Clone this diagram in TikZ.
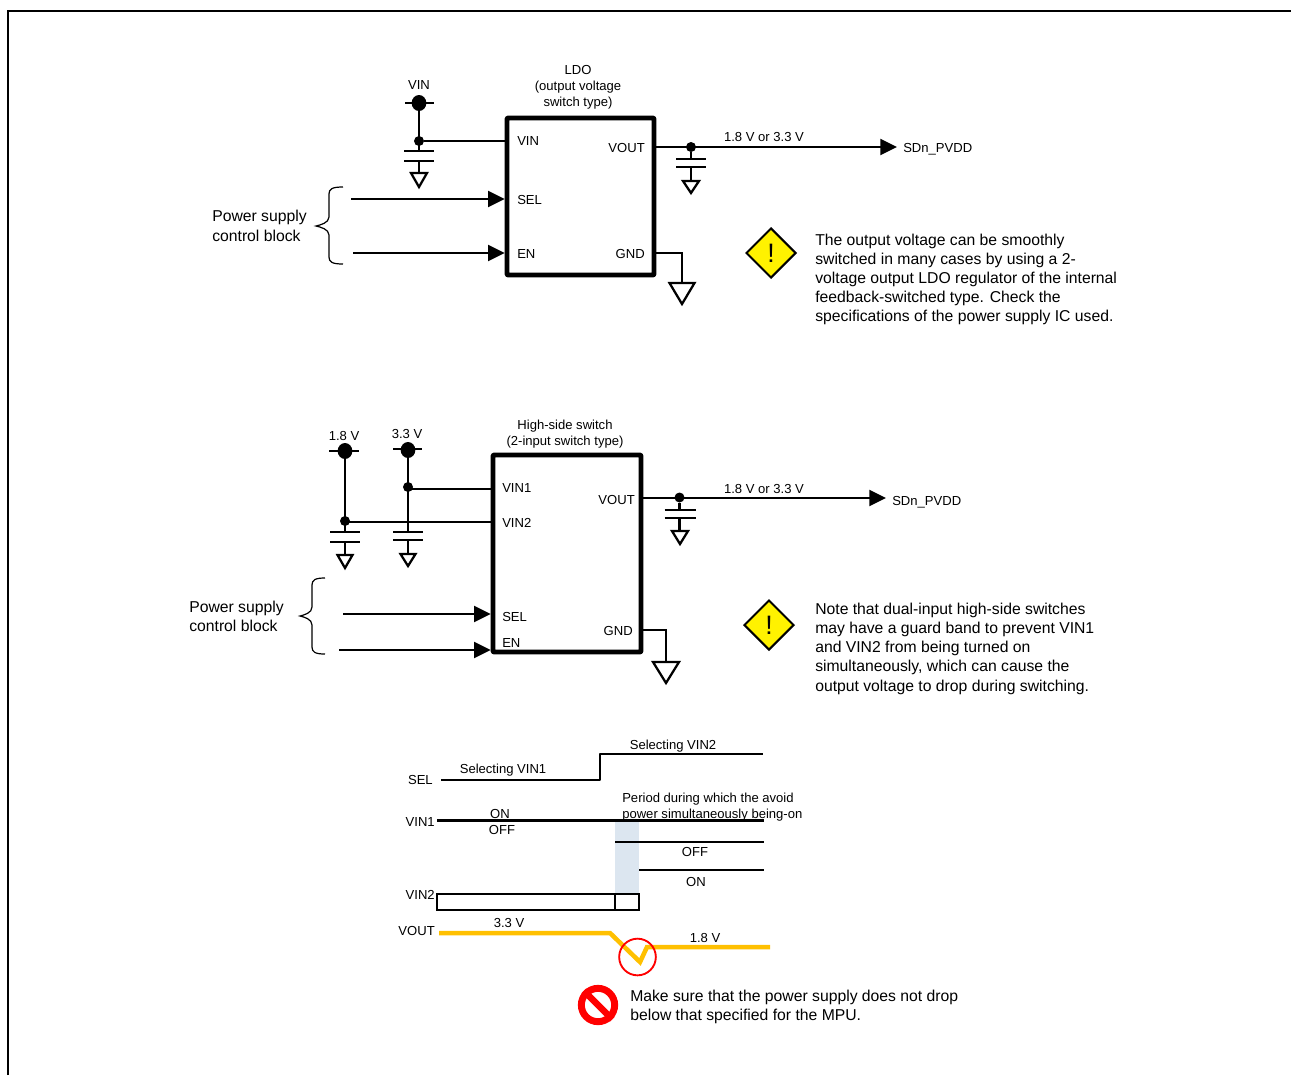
\documentclass[tikz,border=0pt]{standalone}
\usepackage{fontspec}
\setmainfont{Liberation Sans}
\usetikzlibrary{arrows.meta,shapes.geometric}
\definecolor{bandfill}{HTML}{DCE6F0}
\definecolor{voutc}{HTML}{FFC000}
\tikzset{
  x=0.75pt,y=-0.75pt,
  txt/.style={inner sep=0pt,font=\fontsize{9.8pt}{12pt}\selectfont,text height=8.2pt,text depth=0pt},
  ctr/.style={inner sep=0pt,font=\fontsize{9.8pt}{12pt}\selectfont,align=center},
  big/.style={inner sep=0pt,anchor=west,font=\fontsize{11.8pt}{13pt}\selectfont,text height=8.4pt,text depth=0pt},
  wire/.style={line width=1.7pt,draw=black},
  chip/.style={rectangle,line width=3.5pt,draw=black,rounded corners=0.5pt,inner sep=0pt,line join=round},
  inarrow/.style={line width=1.7pt,-{Triangle[length=12.5pt,width=12pt]},shorten >=0pt},
  jct/.style={circle,fill=black,inner sep=0pt,minimum size=7.5pt},
  rail/.style={ellipse,fill=black,inner sep=0pt,minimum width=11pt,minimum height=12pt},
  warnsign/.style={diamond,aspect=1,draw=black,line width=1.5pt,fill=yellow,minimum size=50pt*0.75,inner sep=0pt,font=\fontsize{20pt}{20pt}\selectfont},
  brc/.style={line width=0.9pt,draw=black},
  tim/.style={line width=1.7pt,draw=black},
  gndtri/.style={line width=1.7pt,draw=black,line join=miter},
  plate/.style={line width=1.7pt,draw=black}
}
% plate pair: x, y1, y2, half width
\newcommand{\plates}[4]{%
  \draw[plate] (#1-#4,#2)--(#1+#4,#2);
  \draw[plate] (#1-#4,#3)--(#1+#4,#3);}
% ground triangle: x, top y, half width, apex y
\newcommand{\gndmark}[4]{\draw[gndtri] (#1-#3,#2)--(#1+#3,#2)--(#1,#4)--cycle;}
% brace: right x, spine x, tip x, top y, mid y, bottom y
\newcommand{\bracemark}[6]{\draw[brc] (#1,#4) .. controls (#2+3,#4) and (#2,#4+2) .. (#2,#4+7) -- (#2,#5-9) .. controls (#2,#5-3) and (#3+4,#5-1) .. (#3,#5) .. controls (#3+4,#5+1) and (#2,#5+3) .. (#2,#5+9) -- (#2,#6-7) .. controls (#2,#6-2) and (#2+3,#6) .. (#1,#6);}
\begin{document}
\begin{tikzpicture}
\useasboundingbox (0,0) rectangle (1291,1075);
% frame
\coordinate (fa) at (8,1075); \coordinate (fb) at (8,11); \coordinate (fc) at (1291,11);
\draw[line width=1.2pt] (fa)--(fb)--(fc);

% ===== LDO =====
\node[chip,minimum width=110.25pt,minimum height=117.75pt] (ldo) at (580.5,196.5) {};
\node[ctr] (ldot) at (578,87) {LDO\\(output voltage\\switch type)};
\node[txt] (lvin) at (419,84) {VIN};
\node[rail] (r1) at (419,103) {};
\draw[plate] (405,103)--(434,103);
\node[jct] (j1) at (419,141) {};
\coordinate (c1t) at (419,151); \coordinate (c1b) at (419,161); \coordinate (g1) at (419,173);
\draw[wire] (r1)--(c1t); \draw[wire] (c1b)--(g1);
\draw[wire] (j1)--(j1-|ldo.west);
\plates{419}{151}{161}{15}
\gndmark{419}{173}{8}{187}
\node[txt,anchor=west] (p1) at (517,140) {VIN};
\node[txt,anchor=west] (p2) at (517,199) {SEL};
\node[txt,anchor=west] (p3) at (517,253) {EN};
\node[txt,anchor=east] (p4) at (645,147) {VOUT};
\node[txt,anchor=east] (p5) at (645,253) {GND};
% output
\coordinate (o1) at (897,147);
\node[jct] (j2) at (691,147) {};
\draw[inarrow] (ldo.east|-o1)--(o1);
\coordinate (c2t) at (691,159); \coordinate (c2b) at (691,167); \coordinate (g2) at (691,181);
\draw[wire] (j2)--(c2t); \draw[wire] (c2b)--(g2);
\plates{691}{159}{167}{15}
\gndmark{691}{181}{8}{193}
\node[txt] (v1) at (764,136) {1.8 V or 3.3 V};
\node[txt,anchor=west] (s1) at (903,147) {SDn\_PVDD};
% ground
\coordinate (g3a) at (656,253); \coordinate (g3b) at (682,253); \coordinate (g3c) at (682,283);
\draw[wire] (g3a)--(g3b)--(g3c);
\gndmark{682}{283}{12.5}{304}
% inputs
\coordinate (i1) at (351,199); \coordinate (i2) at (353,253);
\draw[inarrow] (i1)--(i1-|ldo.west);
\draw[inarrow] (i2)--(i2-|ldo.west);
\bracemark{343}{329}{316}{187}{226}{264}
\node[big] (pw1) at (212,216) {Power supply};
\node[big] (pw2) at (212,236) {control block};
\node[warnsign] (w1) at (771,253) {!};
\node[big] (n11) at (815,240) {The output voltage can be smoothly};
\node[big] (n12) at (815,259) {switched in many cases by using a 2-};
\node[big] (n13) at (815,278) {voltage output LDO regulator of the internal};
\node[big] (n14) at (815,297) {feedback-switched type. Check the};
\node[big] (n15) at (815,316) {specifications of the power supply IC used.};

% ===== High-side switch =====
\node[chip,minimum width=111pt,minimum height=147.75pt] (hs) at (567,553.5) {};
\node[ctr] (hst) at (565,434) {High-side switch\\(2-input switch type)};
\node[txt] (l18) at (344,435) {1.8 V};
\node[txt] (l33) at (407,433) {3.3 V};
\node[rail] (r2) at (345,451) {};
\node[rail] (r3) at (408,450) {};
\draw[plate] (329,451)--(359,451);
\draw[plate] (393,449)--(422,449);
\node[jct] (j3) at (345,521) {};
\node[jct] (j4) at (408,487) {};
\coordinate (c3t) at (345,532); \coordinate (c3b) at (345,542); \coordinate (g4) at (345,555);
\coordinate (c4t) at (408,532); \coordinate (c4b) at (408,540); \coordinate (g5) at (408,554);
\draw[wire] (r2)--(c3t); \draw[wire] (c3b)--(g4);
\draw[wire] (r3)--(c4t); \draw[wire] (c4b)--(g5);
\coordinate (w3) at (345,522); \coordinate (w4) at (408,489);
\draw[wire] (w3)--(w3-|hs.west);
\draw[wire] (w4)--(w4-|hs.west);
\plates{345}{532}{542}{15}
\plates{408}{532}{540}{15}
\gndmark{345}{555}{7.5}{568}
\gndmark{408}{554}{7.5}{566}
\node[txt,anchor=west] (q1) at (502,487) {VIN1};
\node[txt,anchor=west] (q2) at (502,522) {VIN2};
\node[txt,anchor=west] (q3) at (502,616) {SEL};
\node[txt,anchor=west] (q4) at (502,642) {EN};
\node[txt,anchor=east] (q5) at (635,499) {VOUT};
\node[txt,anchor=east] (q6) at (633,630) {GND};
\coordinate (o2) at (886,498);
\node[jct] (j5) at (679.5,497.5) {};
\draw[inarrow] (hs.east|-o2)--(o2);
\coordinate (c5t) at (679.5,510); \coordinate (c5b) at (679.5,518); \coordinate (g6) at (679.5,531);
\draw[wire] (j5)--(c5t); \draw[wire] (c5b)--(g6);
\plates{680}{510}{518}{15.5}
\gndmark{680}{531}{8}{544}
\node[txt] (v2) at (764,488) {1.8 V or 3.3 V};
\node[txt,anchor=west] (s2) at (892,500) {SDn\_PVDD};
\coordinate (g7a) at (643,630); \coordinate (g7b) at (666,630); \coordinate (g7c) at (666,662);
\draw[wire] (g7a)--(g7b)--(g7c);
\gndmark{666}{662}{13}{683}
\coordinate (i3) at (343,614); \coordinate (i4) at (339,650);
\draw[inarrow] (i3)--(i3-|hs.west);
\draw[inarrow] (i4)--(i4-|hs.west);
\bracemark{325}{312}{300}{578}{616}{654}
\node[big] (pw3) at (189,607) {Power supply};
\node[big] (pw4) at (189,626) {control block};
\node[warnsign] (w2) at (769,625) {!};
\node[big] (n21) at (815,609) {Note that dual-input high-side switches};
\node[big] (n22) at (815,628) {may have a guard band to prevent VIN1};
\node[big] (n23) at (815,647) {and VIN2 from being turned on};
\node[big] (n24) at (815,666) {simultaneously, which can cause the};
\node[big] (n25) at (815,686) {output voltage to drop during switching.};

% ===== Timing =====
\fill[bandfill] (615,821) rectangle (639,894);
\coordinate (t1) at (441,780); \coordinate (t2) at (600,780); \coordinate (t3) at (600,754); \coordinate (t4) at (763,754);
\draw[tim,line join=round] (t1)--(t2)--(t3)--(t4);
\node[txt,anchor=east] (ts) at (433,779) {SEL};
\node[txt] (ts1) at (503,768) {Selecting VIN1};
\node[txt] (ts2) at (673,744) {Selecting VIN2};
\coordinate (a1) at (437,820.5); \coordinate (a2) at (764,820.5);
\draw[tim] (a1)--(a2);
\node[txt,anchor=east] (tv1) at (435,821) {VIN1};
\node[txt] (on1) at (500,813) {ON};
\node[txt] (off1) at (502,829) {OFF};
\node[txt,anchor=west] (pd1) at (622,797) {Period during which the avoid};
\node[txt,anchor=west] (pd2) at (622,813) {power simultaneously being-on};
\coordinate (b1) at (615,842); \coordinate (b2) at (764,842);
\coordinate (b3) at (639,870); \coordinate (b4) at (764,870);
\draw[tim] (b1)--(b2);
\draw[tim] (b3)--(b4);
\node[txt] (off2) at (695,851) {OFF};
\node[txt] (on2) at (696,881) {ON};
\draw[line width=1.5pt] (437,894) rectangle (639,910);
\coordinate (d1) at (615,894); \coordinate (d2) at (615,910);
\draw[line width=1.5pt] (d1)--(d2);
\node[txt,anchor=east] (tv2) at (435,894) {VIN2};
\node[txt,anchor=east] (tvo) at (435,930) {VOUT};
\coordinate (y1) at (439,933); \coordinate (y2) at (610,933); \coordinate (y3) at (640,962); \coordinate (y4) at (647,947); \coordinate (y5) at (770,947);
\draw[voutc,line width=3.4pt,line join=miter] (y1)--(y2)--(y3)--(y4)--(y5);
\node[txt] (v33) at (509,922) {3.3 V};
\node[txt] (v18) at (705,937) {1.8 V};
\node[circle,draw=red,line width=1.4pt,minimum size=27.5pt,inner sep=0pt] (cr) at (637.5,957) {};
% prohibition sign
\node[circle,draw=red,fill=white,line width=5.2pt,minimum size=25pt,inner sep=0pt] (ban) at (598,1005) {};
\draw[red,line width=5pt] (ban.north west)--(ban.south east);
\node[big] (b11) at (630,996) {Make sure that the power supply does not drop};
\node[big] (b12) at (630,1015) {below that specified for the MPU.};
\end{tikzpicture}
\end{document}
